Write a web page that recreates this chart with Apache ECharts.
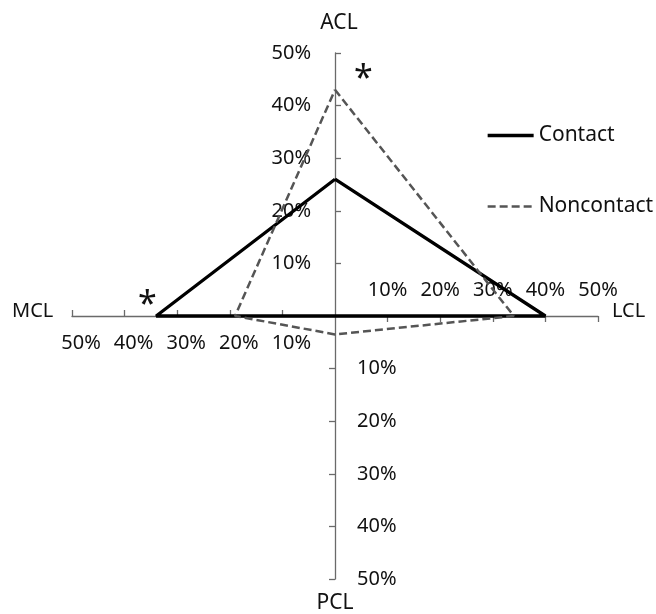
<!DOCTYPE html>
<html>
<head>
<meta charset="utf-8">
<script src="https://cdn.jsdelivr.net/npm/echarts@6/dist/echarts.min.js"></script>
<style>html,body{margin:0;padding:0;background:#fff}#c{width:656px;height:614px}</style>
</head>
<body>
<div id="c"></div>
<script>
// Directions (axes): anterior, lateral, posterior, medial
const directions = ['ACL', 'LCL', 'PCL', 'MCL'];
const seriesNames = ['Contact', 'Noncontact'];
// Percent values in order ACL, LCL, PCL, MCL
const contactValues = [26, 40, 0, 34];
const noncontactValues = [43, 34, 3.5, 19];
const tickValues = [0, 10, 20, 30, 40, 50];
const tickLabel = v => v === 0 ? '' : v + '%';

// build polygon [x,y]: ACL up, LCL right, PCL down, MCL left
function polygon(v) {
  return [[0, v[0]], [v[1], 0], [0, -v[2]], [-v[3], 0], [0, v[0]]];
}

const FONT = 'Noto Sans';
const axisLineStyle = { color: '#6a6a6a', width: 1.3 };
const lbl = { color: '#111', fontSize: 20, fontFamily: FONT };
const hiddenValue = (min, max, gi) => ({ type: 'value', min: min, max: max, show: false, gridIndex: gi });

const chart = echarts.init(document.getElementById('c'), null, { renderer: 'canvas' });
chart.setOption({
  animation: false,
  backgroundColor: '#fff',
  grid: [
    { left: 72, top: 53, width: 526, height: 526 },   // 0 main plot
    { left: 335, top: 53, width: 100, height: 263 },  // 1 up (ACL)
    { left: 335, top: 316, width: 100, height: 263 }, // 2 down (PCL)
    { left: 72, top: 216, width: 263, height: 100 },  // 3 left (MCL)
    { left: 335, top: 216, width: 263, height: 100 }  // 4 right (LCL)
  ],
  xAxis: [
    hiddenValue(-50, 50, 0),
    hiddenValue(0, 1, 1),
    hiddenValue(0, 1, 2),
    { type: 'value', gridIndex: 3, min: 0, max: 50, interval: 10, inverse: true, position: 'bottom',
      axisLine: { show: true, onZero: false, lineStyle: axisLineStyle },
      axisTick: { show: true, inside: true, length: 6, lineStyle: axisLineStyle },
      axisLabel: Object.assign({}, lbl, { margin: 17, padding: [0, 0, 0, 18], formatter: tickLabel, showMinLabel: false }),
      splitLine: { show: false } },
    { type: 'value', gridIndex: 4, min: 0, max: 50, interval: 10, position: 'bottom',
      axisLine: { show: true, onZero: false, lineStyle: axisLineStyle },
      axisTick: { show: true, inside: false, length: 6, lineStyle: axisLineStyle },
      axisLabel: Object.assign({}, lbl, { inside: true, margin: 16, formatter: tickLabel, showMinLabel: false }),
      splitLine: { show: false } }
  ],
  yAxis: [
    hiddenValue(-50, 50, 0),
    { type: 'value', gridIndex: 1, min: 0, max: 50, interval: 10, position: 'left',
      name: directions[0], nameLocation: 'end', nameGap: 19,
      nameTextStyle: { color: '#111', fontSize: 21, fontFamily: FONT, padding: [0, 0, 0, 8] },
      axisLine: { show: true, onZero: false, lineStyle: axisLineStyle },
      axisTick: { show: true, inside: true, length: 6, lineStyle: axisLineStyle },
      axisLabel: Object.assign({}, lbl, { margin: 24, formatter: tickLabel, showMinLabel: false }),
      splitLine: { show: false } },
    { type: 'value', gridIndex: 2, min: 0, max: 50, interval: 10, inverse: true, position: 'left',
      name: directions[2], nameLocation: 'end', nameGap: 14,
      nameTextStyle: { color: '#111', fontSize: 21, fontFamily: FONT },
      axisLine: { show: true, onZero: false, lineStyle: axisLineStyle },
      axisTick: { show: true, inside: false, length: 6, lineStyle: axisLineStyle },
      axisLabel: Object.assign({}, lbl, { inside: true, margin: 22, formatter: tickLabel, showMinLabel: false }),
      splitLine: { show: false } },
    hiddenValue(0, 1, 3),
    hiddenValue(0, 1, 4)
  ],
  legend: {
    orient: 'vertical', left: 481, top: 120, itemGap: 50, itemWidth: 46, itemHeight: 14,
    itemStyle: { opacity: 0 },
    lineStyle: { width: 'inherit' },
    textStyle: { color: '#111', fontSize: 21, fontFamily: FONT },
    data: seriesNames
  },
  graphic: [
    { type: 'text', left: 12, top: 301, style: { text: directions[3], fontSize: 20, fontFamily: FONT, fill: '#111' } },
    { type: 'text', left: 612, top: 301, style: { text: directions[1], fontSize: 20, fontFamily: FONT, fill: '#111' } },
    { type: 'text', left: 354, top: 62, style: { text: '*', fontSize: 34, fontFamily: FONT, fill: '#111' } },
    { type: 'text', left: 138, top: 288, style: { text: '*', fontSize: 34, fontFamily: FONT, fill: '#111' } }
  ],
  series: [
    { name: seriesNames[0], type: 'line', xAxisIndex: 0, yAxisIndex: 0, data: polygon(contactValues),
      symbol: 'none', silent: true, z: 3,
      lineStyle: { color: '#000', width: 3.3, type: 'solid' }, itemStyle: { color: '#000' } },
    { name: seriesNames[1], type: 'line', xAxisIndex: 0, yAxisIndex: 0, data: polygon(noncontactValues),
      symbol: 'none', silent: true, z: 4,
      lineStyle: { color: '#555', width: 2.5, type: [8, 4] }, itemStyle: { color: '#555' } }
  ]
});
</script>
</body>
</html>
